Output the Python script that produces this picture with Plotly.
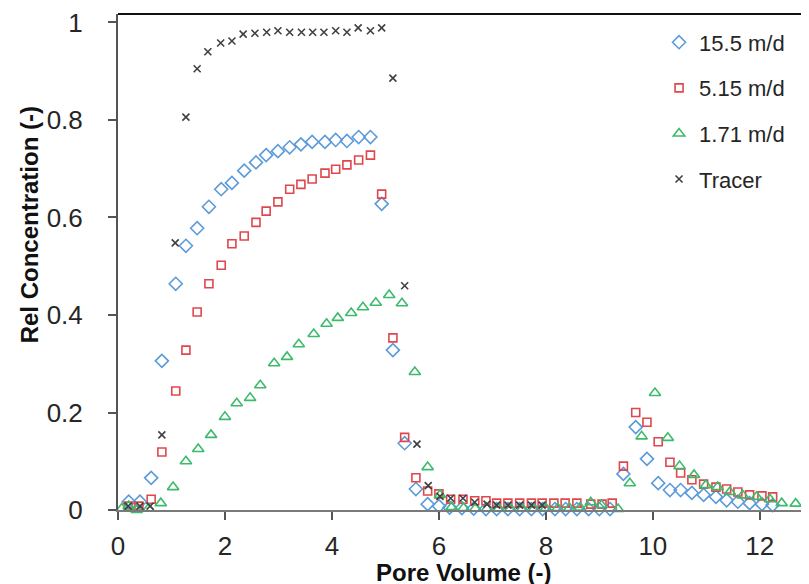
import plotly.graph_objects as go

# ---- data ----
tracer_x = [0.19, 0.41, 0.60, 0.82, 1.07, 1.27, 1.48, 1.68, 1.92, 2.13, 2.34, 2.56, 2.78, 2.99,
            3.21, 3.43, 3.64, 3.85, 4.07, 4.28, 4.49, 4.72, 4.93, 5.14, 5.36, 5.59, 5.80, 6.02,
            6.22, 6.45, 6.67, 6.90, 7.08, 7.29, 7.51, 7.73, 7.93]
tracer_y = [0.008, 0.008, 0.008, 0.154, 0.548, 0.806, 0.905, 0.940, 0.958, 0.962, 0.976, 0.978,
            0.980, 0.983, 0.980, 0.980, 0.980, 0.980, 0.983, 0.980, 0.989, 0.983, 0.989, 0.886,
            0.460, 0.135, 0.050, 0.028, 0.024, 0.024, 0.016, 0.012, 0.010, 0.010, 0.010, 0.010,
            0.010]

v155_x = [0.20, 0.41, 0.62, 0.82, 1.08, 1.27, 1.48, 1.70, 1.93, 2.13, 2.36, 2.58, 2.77, 2.99,
          3.21, 3.42, 3.63, 3.87, 4.07, 4.28, 4.50, 4.72, 4.93, 5.14, 5.36, 5.57, 5.79, 6.00,
          6.20, 6.43, 6.65, 6.88, 7.08, 7.29, 7.51, 7.73, 7.94, 8.17, 8.37, 8.58, 8.80, 9.00,
          9.20, 9.45, 9.68, 9.89, 10.10, 10.32, 10.52, 10.73, 10.95, 11.18, 11.38, 11.59,
          11.81, 12.04, 12.24]
v155_y = [0.017, 0.017, 0.066, 0.306, 0.464, 0.542, 0.578, 0.622, 0.658, 0.671, 0.696, 0.713,
          0.728, 0.736, 0.744, 0.750, 0.755, 0.755, 0.759, 0.757, 0.765, 0.765, 0.628, 0.328,
          0.137, 0.043, 0.012, 0.008, 0.005, 0.004, 0.003, 0.002, 0.002, 0.002, 0.002, 0.002,
          0.002, 0.002, 0.002, 0.002, 0.002, 0.002, 0.002, 0.074, 0.170, 0.105, 0.055, 0.041,
          0.041, 0.035, 0.031, 0.027, 0.020, 0.017, 0.014, 0.012, 0.010]

v515_x = [0.19, 0.39, 0.62, 0.82, 1.08, 1.27, 1.48, 1.70, 1.93, 2.13, 2.36, 2.58, 2.77, 2.99,
          3.21, 3.42, 3.63, 3.87, 4.07, 4.28, 4.50, 4.72, 4.93, 5.14, 5.36, 5.57, 5.79, 6.00,
          6.22, 6.45, 6.67, 6.88, 7.08, 7.29, 7.51, 7.73, 7.93, 8.15, 8.36, 8.58, 8.84, 9.05,
          9.24, 9.45, 9.68, 9.89, 10.10, 10.32, 10.52, 10.73, 10.95, 11.18, 11.38, 11.59,
          11.81, 12.04, 12.24]
v515_y = [0.008, 0.008, 0.022, 0.119, 0.244, 0.328, 0.406, 0.464, 0.502, 0.546, 0.562, 0.590,
          0.613, 0.632, 0.658, 0.668, 0.679, 0.691, 0.699, 0.708, 0.718, 0.728, 0.648, 0.353,
          0.149, 0.066, 0.039, 0.033, 0.022, 0.022, 0.019, 0.019, 0.014, 0.014, 0.014, 0.014,
          0.014, 0.014, 0.014, 0.014, 0.012, 0.012, 0.014, 0.090, 0.200, 0.180, 0.140, 0.098,
          0.076, 0.062, 0.053, 0.047, 0.043, 0.037, 0.031, 0.029, 0.027]

v171_x = [0.07, 0.20, 0.35, 0.57, 0.80, 1.03, 1.27, 1.50, 1.74, 2.00, 2.22, 2.47, 2.66, 2.92,
          3.16, 3.38, 3.66, 3.90, 4.11, 4.36, 4.58, 4.82, 5.07, 5.31, 5.55, 5.79, 6.02, 6.24,
          6.46, 6.68, 6.90, 7.12, 7.34, 7.56, 7.78, 8.00, 8.22, 8.44, 8.64, 8.84, 9.04, 9.35,
          9.57, 9.79, 10.04, 10.28, 10.50, 10.77, 10.99, 11.21, 11.44, 11.68, 11.94, 12.19,
          12.41, 12.67]
v171_y = [0.003, 0.008, 0.000, 0.003, 0.014, 0.047, 0.100, 0.125, 0.154, 0.191, 0.219, 0.230,
          0.256, 0.301, 0.314, 0.340, 0.361, 0.382, 0.394, 0.404, 0.416, 0.425, 0.441, 0.424,
          0.283, 0.088, 0.031, 0.006, 0.004, 0.003, 0.003, 0.003, 0.003, 0.003, 0.003, 0.004,
          0.004, 0.004, 0.005, 0.016, 0.010, 0.002, 0.055, 0.151, 0.240, 0.148, 0.090, 0.072,
          0.051, 0.047, 0.037, 0.030, 0.027, 0.022, 0.014, 0.013]

x_ticks = [0, 2, 4, 6, 8, 10, 12]
x_ticktext = ["0", "2", "4", "6", "8", "10", "12"]
y_ticks = [0, 0.2, 0.4, 0.6, 0.8, 1.0]
y_ticktext = ["0", "0.2", "0.4", "0.6", "0.8", "1"]

FONT = "Liberation Sans"
TXT = "#262626"

fig = go.Figure()
series = [
    ("15.5 m/d", v155_x, v155_y, "diamond-open", "#5B9BD9", 10),
    ("5.15 m/d", v515_x, v515_y, "square-open", "#E0474C", 8),
    ("1.71 m/d", v171_x, v171_y, "triangle-up-open", "#3DBB6C", 10),
    ("Tracer", tracer_x, tracer_y, "x-thin-open", "#404040", 7),
]
for name, xs, ys, sym, col, sz in series:
    fig.add_trace(go.Scatter(
        x=xs, y=ys, mode="markers", name=name, legendgroup=name,
        cliponaxis=False,
        marker=dict(symbol=sym, size=sz, color=col, line=dict(color=col, width=1.6)),
    ))

# the page body adds an 8px offset, so the figure is 801x576 and fills the window
fig.update_layout(
    width=801, height=576,
    margin=dict(l=110, r=0, t=6, b=74, autoexpand=False),
    paper_bgcolor="white", plot_bgcolor="white",
    font=dict(family=FONT, color=TXT),
    showlegend=True,
    legend=dict(x=0.783, y=0.985, xanchor="left", yanchor="top",
                bgcolor="rgba(0,0,0,0)", font=dict(size=22, family=FONT, color=TXT),
                tracegroupgap=14, itemsizing="trace"),
    xaxis=dict(range=[0, 12.92], tickvals=x_ticks, ticktext=x_ticktext, automargin=False,
               showgrid=False, zeroline=False, showline=True, linecolor="#7a7a7a",
               linewidth=2, ticks="outside", ticklen=8, tickwidth=1.5, tickcolor="#555",
               tickfont=dict(size=26, family=FONT, color=TXT), ticklabelstandoff=4,
               ticklabeloverflow="allow"),
    yaxis=dict(range=[0, 1.0174], tickvals=y_ticks, ticktext=y_ticktext, automargin=False,
               showgrid=False, zeroline=False, showline=True, linecolor="#555",
               linewidth=2, ticks="outside", ticklen=8, tickwidth=1.5, tickcolor="#555",
               tickfont=dict(size=26, family=FONT, color=TXT), ticklabelstandoff=20,
               ticklabeloverflow="allow"),
)

# top border of plot area
fig.add_shape(type="line", xref="paper", yref="paper", x0=0, x1=1, y0=1, y1=1,
              line=dict(color="#111", width=2))

# axis titles
fig.add_annotation(text="<b>Pore Volume (-)</b>", xref="paper", yref="paper",
                   x=0.5, y=-0.126, xanchor="center", yanchor="middle", showarrow=False,
                   font=dict(size=24, family=FONT, color="#111"))
fig.add_annotation(text="<b>Rel Concentration (-)</b>", xref="paper", yref="paper",
                   x=-0.128, y=0.575, xanchor="center", yanchor="middle", showarrow=False,
                   textangle=-90, font=dict(size=24, family=FONT, color="#111"))

fig.write_html("out.html")
